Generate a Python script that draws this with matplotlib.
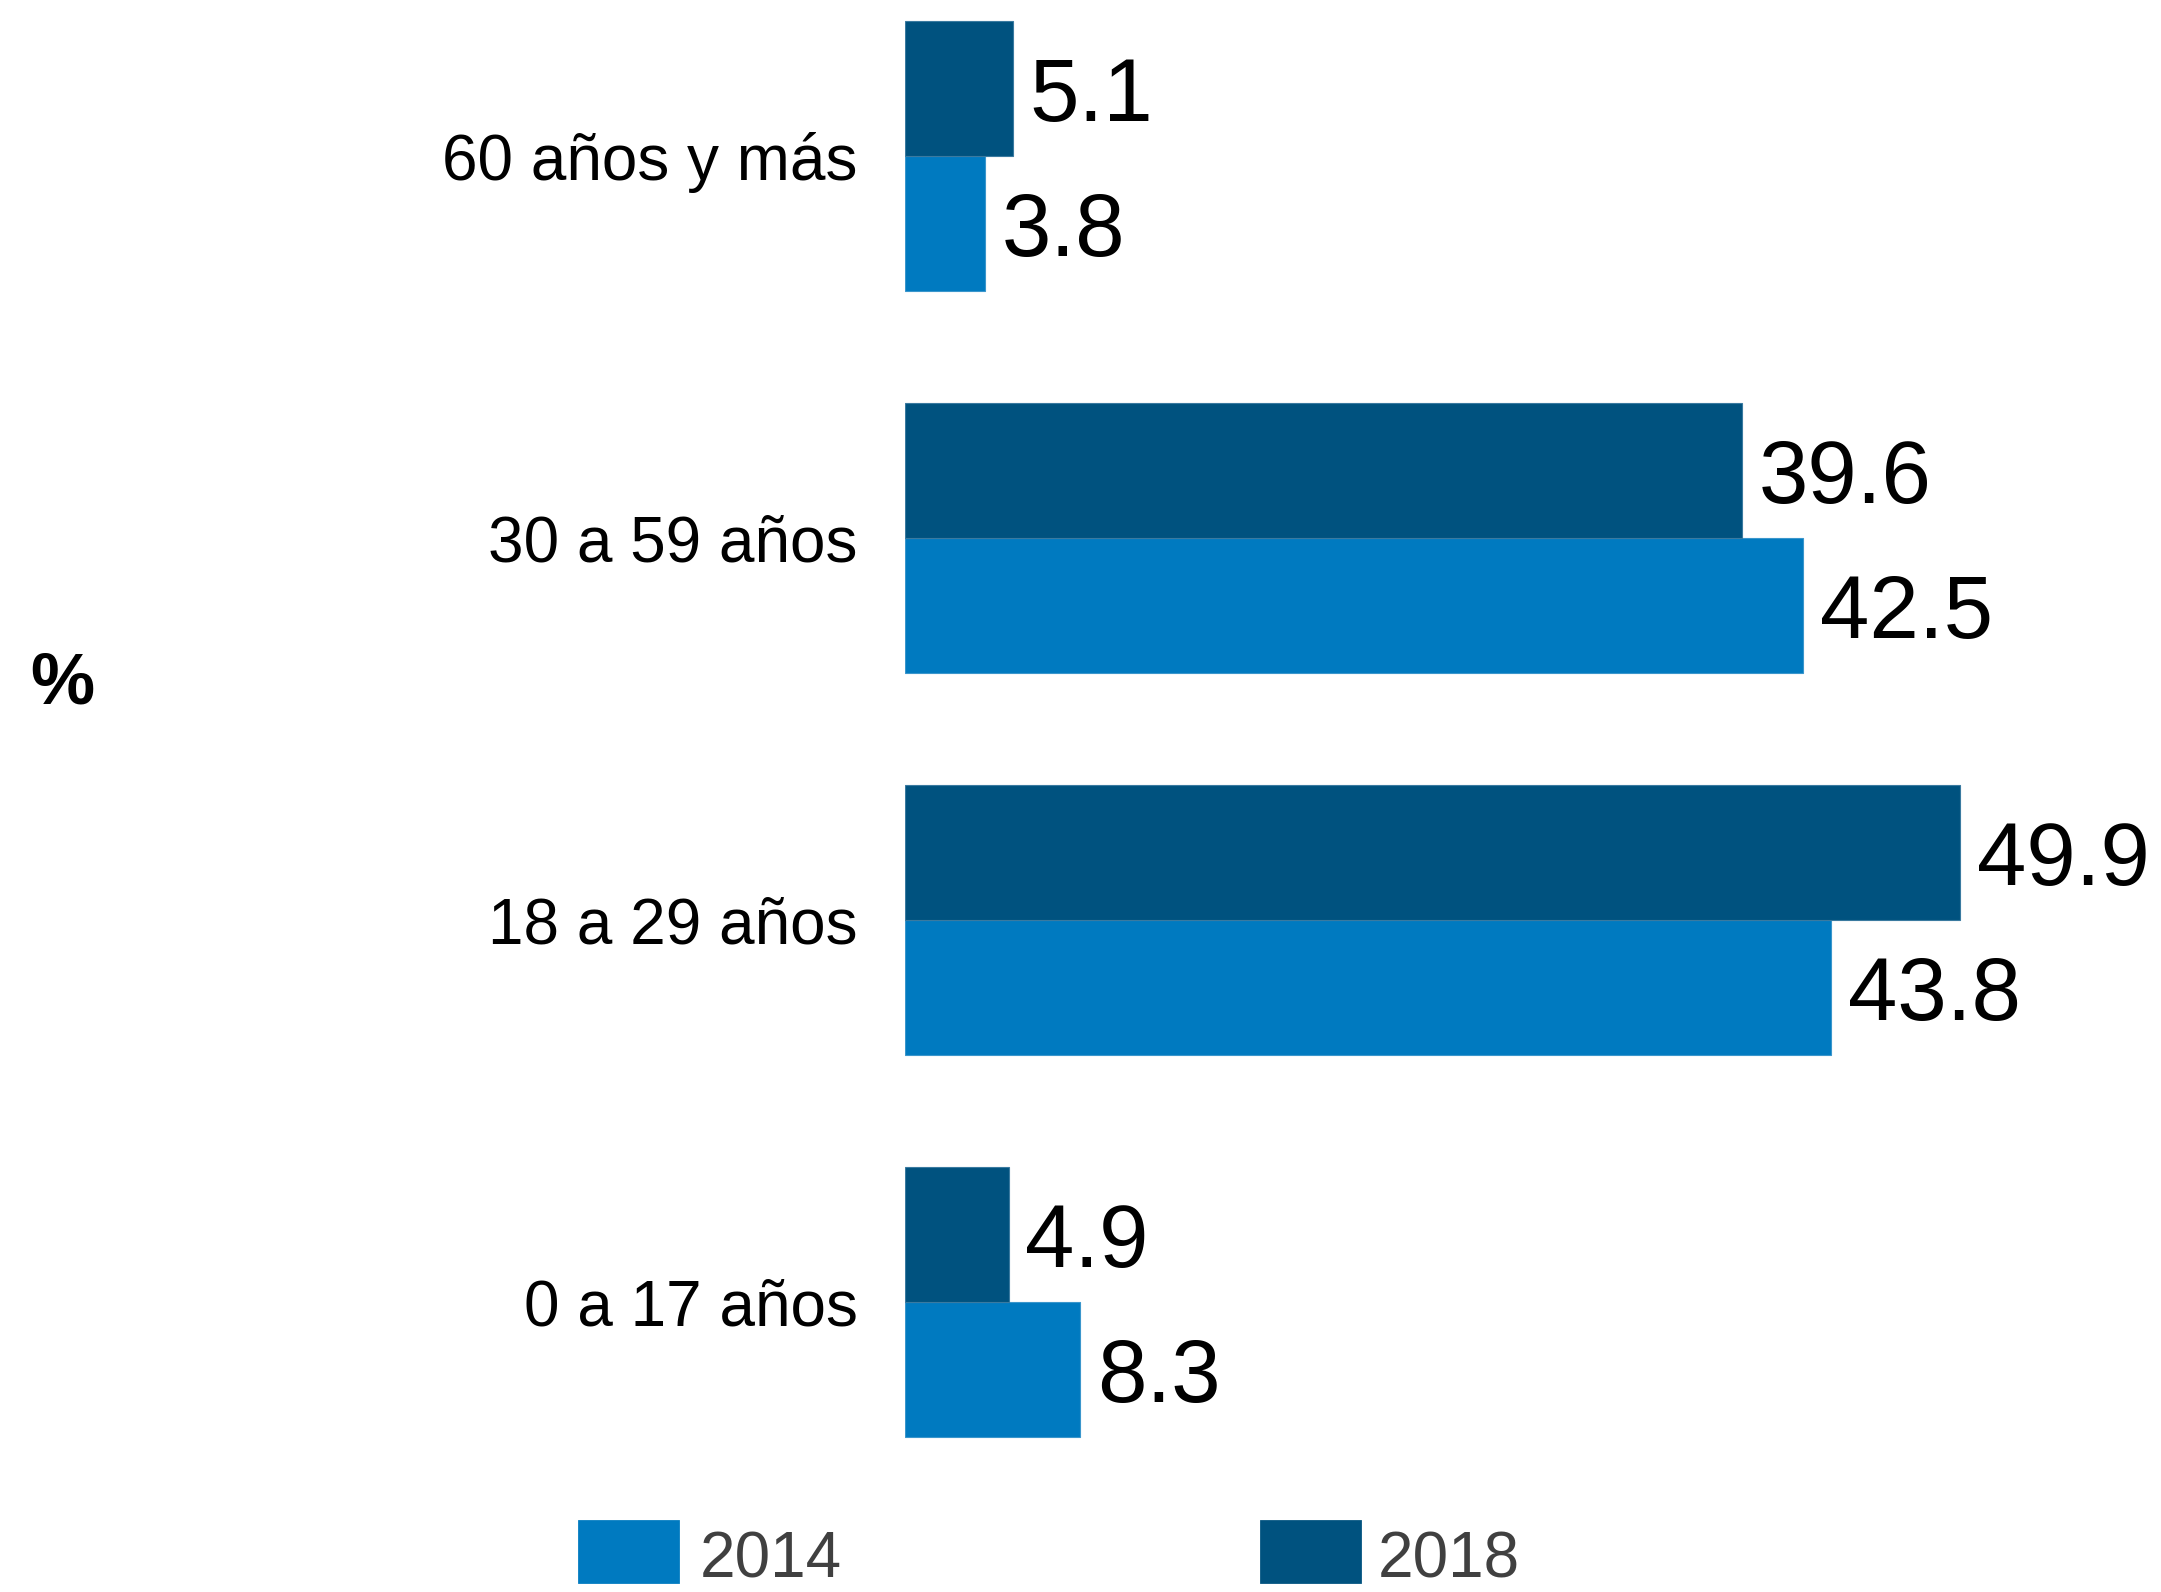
import matplotlib
matplotlib.use("Agg")
import matplotlib.pyplot as plt
from matplotlib.patches import Rectangle
from matplotlib import font_manager as fm

categories = ["0 a 17 años", "18 a 29 años", "30 a 59 años", "60 años y más"]
series_names = ["2014", "2018"]
values_2014 = [8.3, 43.8, 42.5, 3.8]
values_2018 = [4.9, 49.9, 39.6, 5.1]
color_2014 = "#007AC0"
color_2018 = "#00527F"

names = {f.name for f in fm.fontManager.ttflist}
main_font = "Liberation Sans" if "Liberation Sans" in names else "DejaVu Sans"
plt.rcParams["font.family"] = [main_font, "DejaVu Sans"]

W, H, DPI = 2161, 1592, 200
fig = plt.figure(figsize=(W / DPI, H / DPI), dpi=DPI)
ax = fig.add_axes([905 / W, 0, 1 - 905 / W, 1])

h = 0.3547
y = list(range(len(categories)))
bars14 = ax.barh([v - h / 2 for v in y], values_2014, height=h, color=color_2014,
                 edgecolor="#3a96cc", linewidth=0.4, label=series_names[0])
bars18 = ax.barh([v + h / 2 for v in y], values_2018, height=h, color=color_2018,
                 edgecolor="#3a7aa0", linewidth=0.4, label=series_names[1])

for bars in (bars14, bars18):
    for b in bars:
        w = b.get_width()
        ax.annotate(f"{w:.1f}", xy=(w, b.get_y() + b.get_height() / 2),
                    xytext=(6, -3.5), textcoords="offset points",
                    ha="left", va="center", fontsize=32, color="black",
                    annotation_clip=False)

ax.set_xlim(0, (W - 905) / 21.14)
ax.set_ylim(-(1592 - 1302) / 382, 3 + 156 / 382)
ax.set_yticks(y)
ax.set_yticklabels(categories, fontsize=23)
ax.tick_params(axis="y", length=0, pad=17)
ax.tick_params(axis="x", bottom=False, labelbottom=False)
for s in ax.spines.values():
    s.set_visible(False)
ax.patch.set_alpha(0)

fig.text(62 / W, 1 - 685 / H, "%", fontsize=26, fontweight="bold",
         ha="center", va="center")

# legend
leg_items = [(579, 700, color_2014, series_names[0]), (1261, 1378, color_2018, series_names[1])]
for x0, tx, c, lab in leg_items:
    fig.add_artist(Rectangle((x0 / W, 1 - 1582 / H), 99 / W, 61 / H,
                             transform=fig.transFigure, color=c))
    fig.text(tx / W, 1 - 1577 / H, lab, fontsize=23, color="#404040",
             ha="left", va="baseline")

fig.savefig("out.png", dpi=DPI)
